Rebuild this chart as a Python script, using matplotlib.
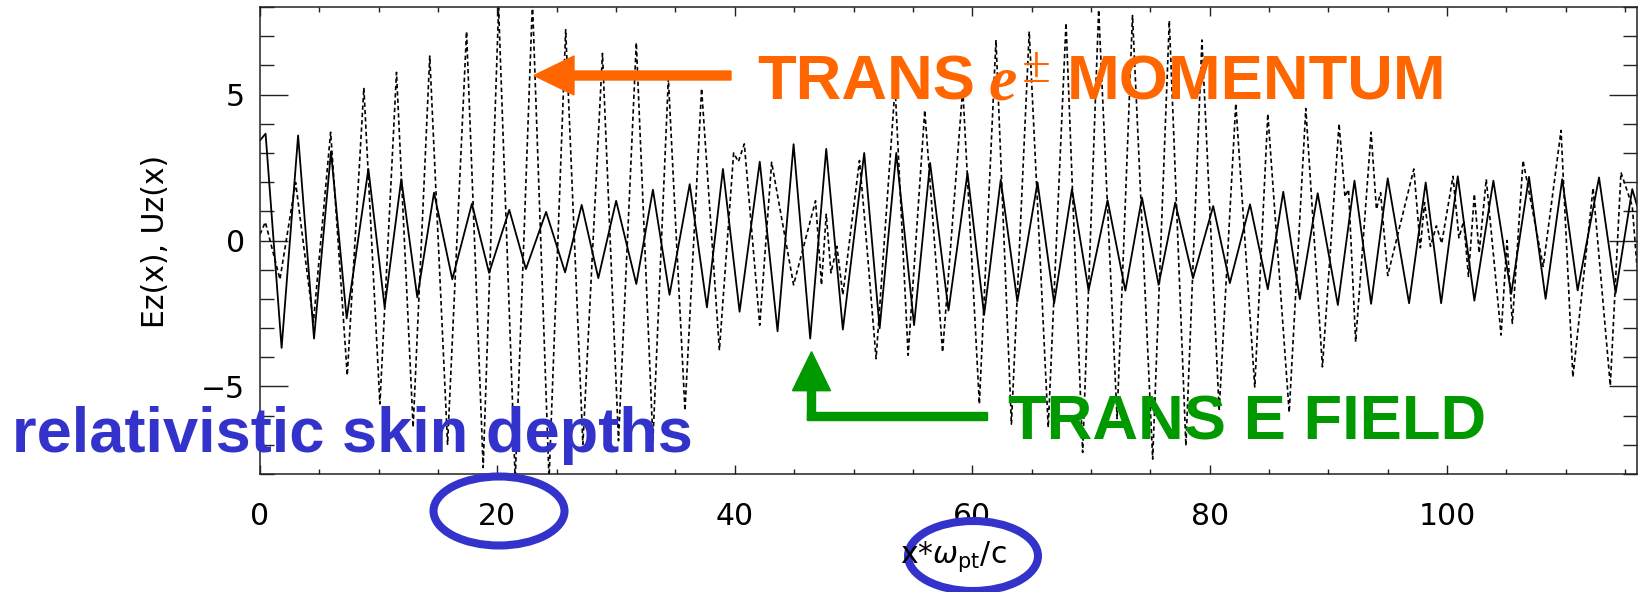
import numpy as np
import matplotlib.pyplot as plt
from matplotlib.patches import FancyArrow, Ellipse, Rectangle
from matplotlib.transforms import IdentityTransform

# transverse field Ez(x): turning points of the solid trace
ez_x = [0.0, 0.47, 1.82, 3.21, 4.55, 5.98, 7.3, 9.13, 10.5, 11.9,
        13.25, 14.66, 16.2, 17.85, 19.3, 21.0, 22.4, 24.1, 25.7, 27.1,
        28.5, 30.0, 31.7, 33.1, 34.5, 36.2, 37.65, 39.0, 40.4, 42.1,
        43.6, 44.95, 46.35, 47.7, 49.1, 50.9, 52.2, 53.6, 55.1, 56.45,
        58.0, 59.6, 61.0, 62.4, 63.8, 65.5, 66.9, 68.4, 69.8, 71.4,
        72.9, 74.3, 75.7, 77.1, 78.6, 80.3, 81.7, 83.4, 84.9, 86.2,
        87.6, 89.1, 90.8, 92.2, 93.6, 95.0, 96.8, 98.2, 99.5, 100.9,
        102.3, 103.9, 105.4, 106.9, 108.3, 109.7, 111.0, 112.8, 114.2, 115.6,
        116.0]
ez_y = [3.43, 3.66, -3.68, 3.60, -3.36, 3.05, -2.67, 2.45, -2.29, 2.10,
        -1.95, 1.64, -1.33, 1.26, -1.11, 1.05, -0.98, 0.98, -1.09, 1.22,
        -1.29, 1.36, -1.49, 1.74, -1.86, 1.93, -2.29, 2.45, -2.44, 2.70,
        -3.11, 3.30, -3.36, 3.14, -3.05, 3.00, -3.01, 3.00, -2.90, 2.66,
        -2.40, 2.31, -2.55, 2.08, -2.09, 1.99, -2.15, 1.76, -1.71, 1.38,
        -1.72, 1.47, -1.52, 1.30, -1.29, 1.18, -1.46, 1.24, -1.67, 1.67,
        -2.01, 1.62, -2.21, 2.05, -2.17, 2.13, -2.15, 1.99, -2.15, 2.20,
        -2.06, 2.05, -1.83, 2.18, -2.00, 2.10, -1.71, 2.16, -1.80, 1.76,
        1.20]

# transverse momentum Uz(x): turning points of the dotted trace
uz_x = [0.0, 0.45, 1.68, 3.0, 4.5, 5.95, 7.35, 8.75, 10.1, 11.5,
        12.9, 14.3, 15.8, 17.4, 18.8, 20.1, 21.5, 22.95, 24.35, 25.75,
        27.2, 28.85, 30.2, 31.7, 33.1, 34.4, 35.8, 37.2, 38.7, 39.9,
        40.3, 40.8, 42.1, 43.1, 44.95, 46.8, 47.3, 47.7, 48.1, 48.6,
        49.1, 50.5, 50.9, 51.9, 53.5, 54.6, 56.0, 57.5, 59.2, 60.6,
        62.0, 63.3, 64.8, 66.4, 67.9, 69.3, 70.65, 72.2, 73.5, 75.2,
        76.6, 78.0, 79.35, 80.8, 82.2, 83.8, 84.9, 86.7, 88.1, 89.5,
        90.9, 91.4, 91.7, 92.3, 93.6, 94.05, 94.4, 95.0, 97.2, 97.75,
        98.1, 98.6, 99.1, 99.55, 100.5, 101.0, 101.4, 101.8, 102.3, 102.7,
        103.3, 104.55, 105.05, 105.5, 106.4, 108.1, 109.6, 110.6, 112.3, 113.75,
        114.65, 115.6, 116.0]
uz_y = [0.21, 0.63, -1.33, 1.99, -2.80, 3.71, -4.62, 5.23, -5.60, 5.76,
        -6.40, 6.32, -6.98, 7.16, -7.78, 7.97, -8.20, 8.20, -8.20, 7.22,
        -6.98, 6.41, -6.86, 6.78, -6.86, 5.55, -5.83, 5.21, -3.76, 3.00,
        2.70, 3.31, -2.90, 2.68, -1.52, 1.36, -1.52, 0.90, -1.11, -0.20,
        -1.86, 2.74, 0.90, -4.05, 5.26, -3.93, 4.46, -3.82, 5.21, -5.60,
        6.87, -6.29, 7.16, -6.40, 7.45, -7.26, 7.90, -6.10, 7.71, -7.49,
        7.53, -7.03, 6.87, -5.83, 4.69, -5.02, 4.34, -5.89, 4.52, -4.33,
        4.00, 1.50, 1.75, -3.47, 3.71, 1.07, 1.64, -1.20, 2.45, -0.25,
        1.30, -0.20, 0.50, -0.10, 2.20, 0.09, 0.67, -1.23, 1.59, -0.43,
        2.10, -3.24, 0.00, -2.84, 2.74, -0.89, 3.77, -4.68, 1.80, -4.97,
        2.33, 1.18, -0.90]

x_ticks = [0, 20, 40, 60, 80, 100]
y_ticks = [-5, 0, 5]

ORANGE = '#ff6600'
GREEN = '#009900'
BLUE = '#3333cc'

W, H = 1638, 592
fig = plt.figure(figsize=(W / 100, H / 100), dpi=100)
ax = fig.add_axes([260 / W, 1 - 474 / H, (1637 - 260) / W, (474 - 7) / H])

ax.plot(ez_x, ez_y, color='black', lw=1.3)
ax.plot(uz_x, uz_y, color='black', lw=1.2, linestyle=(0, (2.6, 1.8)))

ax.set_xlim(0, 116)
ax.set_ylim(-8, 8)
ax.set_xticks(x_ticks)
ax.set_xticks(np.arange(0, 117, 5), minor=True)
ax.set_yticks(y_ticks)
ax.set_yticks(np.arange(-8, 9, 1), minor=True)
for s in ax.spines.values():
    s.set_linewidth(1.1)
    s.set_color('#222222')
ax.tick_params(which='both', direction='in', top=True, right=True,
               labelsize=21.5, width=1.0, color='#222222')
ax.tick_params(axis='x', which='major', length=6.5, pad=20)
ax.tick_params(axis='x', which='minor', length=3.5)
ax.tick_params(axis='y', which='major', length=20, pad=11)
ax.tick_params(axis='y', which='minor', length=10)

fig.text(155 / W, 1 - 241 / H, 'Ez(x), Uz(x)', rotation=90, fontsize=21.5,
         ha='center', va='center')
fig.text(953 / W, 1 - 557 / H, r'x*$\omega_{\rm pt}$/c', fontsize=21.5,
         ha='center', va='center')


def px(x, y):
    return x / W, 1 - y / H


bold = dict(family='Liberation Sans', weight='bold', fontsize=45.5, va='baseline', zorder=5)

# orange label with arrow pointing at the momentum trace
fig.text(*px(757, 99.3), 'TRANS', color=ORANGE, **bold)
fig.text(*px(988, 99.3), 'e', color=ORANGE, family='Liberation Serif',
         style='italic', weight='bold', fontsize=46, va='baseline', zorder=5)
fig.text(*px(1022, 82.5), '\u00b1', color=ORANGE, family='Liberation Serif',
         fontsize=38, va='baseline', zorder=5)
fig.text(*px(1067, 99.3), 'MOMENTUM', color=ORANGE, **bold)
fig.add_artist(FancyArrow(731, H - 75.5, -197, 0, width=9, head_width=39,
                          head_length=40, length_includes_head=True,
                          color=ORANGE, transform=IdentityTransform()))

# green label with an elbow arrow pointing at the field trace
fig.text(*px(1008, 440), 'TRANS E FIELD', color=GREEN, **bold)
fig.add_artist(Rectangle((807, H - 420), 180, 8, color=GREEN,
                         transform=IdentityTransform()))
fig.add_artist(FancyArrow(811.5, H - 420, 0, 68.3, width=8, head_width=38,
                          head_length=39, length_includes_head=True,
                          color=GREEN, transform=IdentityTransform()))

# blue note on the axis units
fig.text(*px(12, 452), 'relativistic skin depths', color=BLUE, **bold)
fig.add_artist(Ellipse((499, H - 511), 131, 69, fill=False, lw=5.8,
                       ec=BLUE, transform=IdentityTransform()))
fig.add_artist(Ellipse((973, H - 556), 130, 70, fill=False, lw=5.8,
                       ec=BLUE, transform=IdentityTransform()))

fig.savefig('out.png', dpi=100)
